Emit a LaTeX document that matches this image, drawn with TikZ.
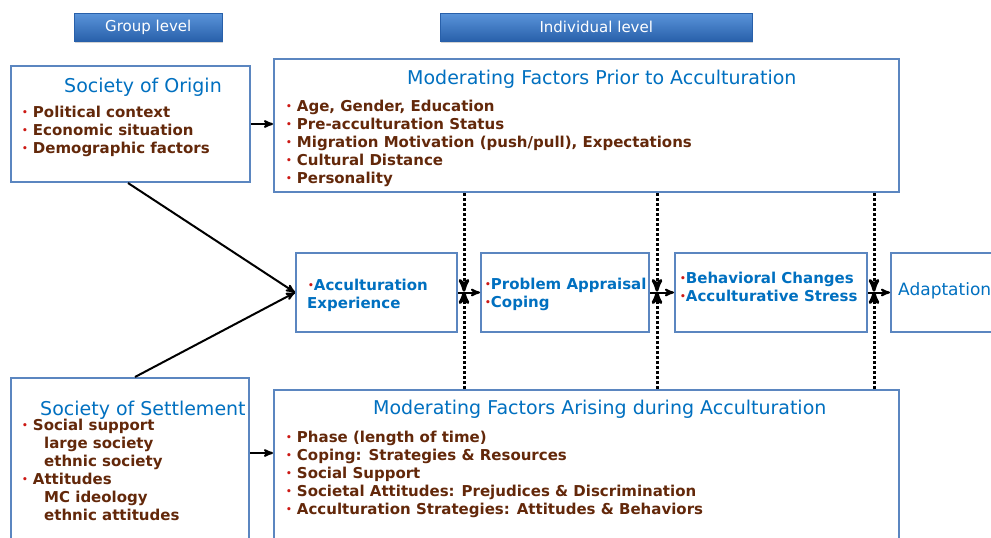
\documentclass[tikz,border=0pt]{standalone}
\usepackage{fontspec}
\setmainfont{DejaVu Sans}
\usetikzlibrary{positioning, arrows, calc, shadows}
\definecolor{boxblue}{RGB}{91,134,192}
\definecolor{titleblue}{RGB}{0,112,192}
\definecolor{itembrown}{RGB}{99,40,10}
\definecolor{dotred}{RGB}{205,25,20}
\definecolor{btntop}{RGB}{90,148,218}
\definecolor{btnbottom}{RGB}{40,96,170}
\newcommand{\bul}{\raisebox{1.5pt}{\color{dotred}\fontsize{9}{9}\selectfont\textbullet}\hspace{5pt}}
\newcommand{\bulx}{\raisebox{1.5pt}{\color{dotred}\fontsize{9}{9}\selectfont\textbullet}}
\tikzset{
	box/.style={draw=boxblue, line width=2pt, fill=white, anchor=north west, inner sep=0pt}, % the framed boxes
	btn/.style={draw=btnbottom, line width=0.5pt, top color=btntop, bottom color=btnbottom,
		drop shadow={opacity=0.35, shadow xshift=1pt, shadow yshift=-2pt},
		anchor=north west, inner sep=0pt, text=white, font=\fontsize{15}{15}\selectfont}, % level buttons
	title/.style={anchor=base west, inner sep=0pt, text=titleblue, font=\fontsize{19}{19}\selectfont}, % box headings
	items/.style={anchor=base west, inner sep=0pt, align=left, text=itembrown, font=\fontsize{15}{18}\selectfont\bfseries}, % placed at the last line
	flow/.style={anchor=base west, inner sep=0pt, align=left, text=titleblue, font=\fontsize{15}{18}\selectfont\bfseries},
	arr/.style={->, >=stealth', line width=2pt}, % solid arrows
	modline/.style={->, >=stealth', line width=3pt, dash pattern=on 3pt off 2pt}, % moderating influence
}
\begin{document}
\begin{tikzpicture}[x=1pt, y=-1pt]
	\useasboundingbox (0,0) rectangle (991,538);

	% level headers
	\node[btn, minimum width=148pt, minimum height=28pt] (group_level) at (74,13) {Group level};
	\node[btn, minimum width=312pt, minimum height=28pt] (indiv_level) at (440,13) {Individual level};

	% group level boxes
	\node[box, minimum width=239pt, minimum height=116pt] (origin) at (10,65) {};
	\node[title] (origin_title) at (64,92) {Society of Origin};
	\node[items] (origin_list) at (22,153) {\bul Political context\\ \bul Economic situation\\ \bul Demographic factors};

	\node[box, minimum width=238pt, minimum height=200pt] (settle) at (10,377) {};
	\node[title] (settle_title) at (40,415) {Society of Settlement};
	\node[items] (settle_list) at (22,520) {\bul Social support\\ \hspace*{22pt}large society\\ \hspace*{22pt}ethnic society\\
		\bul Attitudes\\ \hspace*{22pt}MC ideology\\ \hspace*{22pt}ethnic attitudes};

	% moderating factors
	\node[box, minimum width=625pt, minimum height=133pt] (prior) at (273,58) {};
	\node[title] (prior_title) at (407,84) {Moderating Factors Prior to Acculturation};
	\node[items] (prior_list) at (286,183) {\bul Age, Gender, Education\\ \bul Pre-acculturation Status\\
		\bul Migration Motivation (push/pull), Expectations\\ \bul Cultural Distance\\ \bul Personality};

	\node[box, minimum width=625pt, minimum height=190pt] (arising) at (273,389) {};
	\node[title] (arising_title) at (373,414) {Moderating Factors Arising during Acculturation};
	\node[items] (arising_list) at (286,514) {\bul Phase (length of time)\\ \bul Coping: Strategies \& Resources\\
		\bul Social Support\\ \bul Societal Attitudes: Prejudices \& Discrimination\\ \bul Acculturation Strategies: Attitudes \& Behaviors};

	% acculturation process
	\node[box, minimum width=161pt, minimum height=79pt] (exper) at (295,252) {};
	\node[flow] (exper_text) at (307,308) {\hspace*{1pt}\bulx Acculturation\\ Experience};
	\node[box, minimum width=168pt, minimum height=79pt] (apprais) at (480,252) {};
	\node[flow] (apprais_text) at (485,307) {\bulx Problem Appraisal\\ \bulx Coping};
	\node[box, minimum width=192pt, minimum height=79pt] (change) at (674,252) {};
	\node[flow] (change_text) at (680,301) {\bulx Behavioral Changes\\ \bulx Acculturative Stress};
	\node[box, minimum width=130pt, minimum height=79pt] (adapt) at (890,252) {};
	\node[flow, font=\fontsize{17}{17}\selectfont] (adapt_text) at (898,295) {Adaptation};

	\coordinate (cross_a) at (464,291.5);
	\coordinate (cross_b) at (657,291.5);
	\coordinate (cross_c) at (874,291.5);

	\draw[arr] (origin.east) -- (origin.east -| prior.west);
	\draw[arr] ([yshift=-76pt]settle.north east) -- ([yshift=-76pt]settle.north east -| arising.west);
	\draw[arr] ([xshift=118pt]origin.south west) -- (exper.west);
	\draw[arr] ([xshift=125pt]settle.north west) -- (exper.west);

	\draw[arr] (exper.east) -- (apprais.west);
	\draw[arr] (apprais.east) -- (change.west);
	\draw[arr] (change.east) -- (adapt.west);

	\foreach \c in {cross_a, cross_b, cross_c} {
		\draw[modline] (\c |- prior.south) -- (\c);
		\draw[modline] (\c |- arising.north) -- (\c);
	}
\end{tikzpicture}
\end{document}
